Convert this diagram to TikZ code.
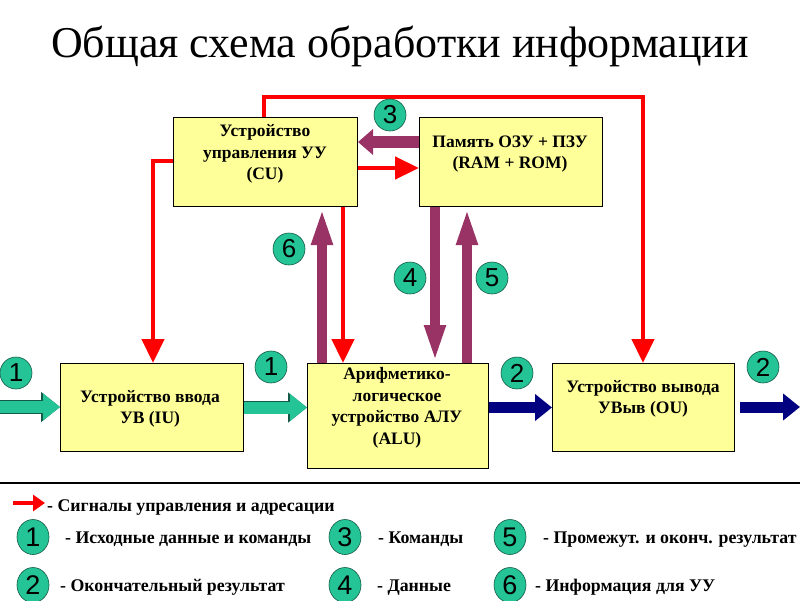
\documentclass[tikz,border=0pt]{standalone}
\usepackage{fontspec}
\setmainfont{Liberation Serif}
\newfontfamily\numfont{Liberation Sans}
\usetikzlibrary{arrows.meta,calc,shapes.geometric}
\definecolor{boxyellow}{RGB}{255,255,153}
\definecolor{tealc}{RGB}{36,196,150}
\definecolor{tealdark}{RGB}{20,90,70}
\definecolor{plum}{RGB}{153,51,102}
\definecolor{navyc}{RGB}{0,0,128}
\definecolor{redc}{RGB}{255,0,0}
\begin{document}
\begin{tikzpicture}[x=1pt,y=-1pt,
  box/.style={draw=black, line width=1pt, fill=boxyellow, anchor=north west, inner sep=0pt},
  boxtext/.style={align=center, font=\bfseries\fontsize{17.5}{21.5}\selectfont, inner sep=0pt},
  num/.style={circle, draw=tealdark, fill=tealc, line width=0.6pt, minimum size=32pt, inner sep=0pt, font=\numfont\fontsize{26}{26}\selectfont},
  lnum/.style={ellipse, draw=tealdark, fill=tealc, line width=0.6pt, minimum width=32pt, minimum height=35pt, inner sep=0pt, font=\numfont\fontsize{27}{27}\selectfont},
  legtext/.style={anchor=base west, inner sep=0pt, font=\bfseries\fontsize{17.8}{20}\selectfont},
  redarr/.style={draw=redc, line width=4.5pt, -{Triangle[width=22pt,length=24pt]}},
  plumH/.style={draw=plum, line width=12pt, -{Triangle[width=25pt,length=15pt]}},
  plumV/.style={draw=plum, line width=9.5pt, -{Triangle[width=19pt,length=38pt]}},
  tealout/.style={draw=tealdark, line width=13.6pt, -{Triangle[width=29pt,length=19pt]}},
  tealin/.style={draw=tealc, line width=12pt, -{Triangle[width=26pt,length=17pt]}},
  navyarr/.style={draw=navyc, line width=11pt, -{Triangle[width=26pt,length=17pt]}}
]
\useasboundingbox (0,0) rectangle (800,600);

% title
\node[anchor=base, inner sep=0pt, font=\fontsize{44}{50}\selectfont] (title) at (400,57) {Общая схема обработки информации};

% boxes
\node[box, minimum width=184pt, minimum height=89pt] (cu) at (173,117) {};
\node[box, minimum width=183pt, minimum height=89pt] (ram) at (419,117) {};
\node[box, minimum width=183pt, minimum height=88pt] (iu) at (60,363) {};
\node[box, minimum width=181pt, minimum height=105pt] (alu) at (307,363) {};
\node[box, minimum width=182pt, minimum height=88pt] (ou) at (552,363) {};

\node[boxtext] (cut) at (265,154) {Устройство\\управления УУ\\(CU)};
\node[boxtext] (ramt) at (510,154) {Память ОЗУ + ПЗУ\\(RAM + ROM)};
\node[boxtext] (iut) at (150,409) {Устройство ввода\\УВ (IU)};
\node[boxtext] (alut) at (397,408) {Арифметико-\\логическое\\устройство АЛУ\\(ALU)};
\node[boxtext] (out) at (643,399) {Устройство вывода\\УВыв (OU)};

% helper coordinates
\coordinate (c1) at (264,97);
\coordinate (c2) at (643,97);
\coordinate (c3) at (153,161);
\coordinate (c4) at (343,0);
\coordinate (c5) at (0,168);
\coordinate (c6) at (0,142);
\coordinate (c7) at (322,0);
\coordinate (c8) at (435,0);
\coordinate (c9) at (467,0);
\coordinate (inL) at (0,407);
\coordinate (outS) at (740,407);
\coordinate (outR) at (800,407);

% red control lines
\draw[redarr] (c1 |- cu.north) -- (c1) -- (c2) -- (c2 |- ou.north);
\draw[redarr] (c3 -| cu.west) -- (c3) -- (c3 |- iu.north);
\draw[redarr] (c4 |- cu.south) -- (c4 |- alu.north);
\draw[redarr] (c5 -| cu.east) -- (c5 -| ram.west);

% plum data arrows
\draw[plumH] (c6 -| ram.west) -- (c6 -| cu.east);
\draw[plumV] (c7 |- alu.north) -- (c7 |- cu.south);
\draw[plumV] (c8 |- ram.south) -- (c8 |- alu.north);
\draw[plumV] (c9 |- alu.north) -- (c9 |- ram.south);

% teal and navy block arrows
\draw[tealout] (inL) -- (inL -| iu.west);
\draw[tealin] (inL) -- (inL -| iu.west);
\draw[tealout] (iu.east) -- (iu.east -| alu.west);
\draw[tealin] (iu.east) -- (iu.east -| alu.west);
\draw[navyarr] (alu.east |- ou.west) -- (ou.west);
\draw[navyarr] (outS) -- (outR);

% numbered circles
\node[num] (n3) at (390,115) {3};
\node[num] (n6) at (289,249) {6};
\node[num] (n4) at (410,278) {4};
\node[num] (n5) at (492,278) {5};
\node[num] (n1a) at (16,373) {1};
\node[num] (n1b) at (271,367) {1};
\node[num] (n2a) at (517,373) {2};
\node[num] (n2b) at (763,367) {2};

% legend
\coordinate (lL) at (0,483);
\coordinate (lR) at (800,483);
\draw[line width=1.5pt] (lL) -- (lR);
\coordinate (la1) at (13,503);
\coordinate (la2) at (45,503);
\draw[draw=redc, line width=4pt, -{Triangle[width=16pt,length=12pt]}] (la1) -- (la2);
\node[legtext] (lg0) at (47,511) {- Сигналы управления и адресации};

\node[lnum] (l1) at (33,537) {1};
\node[legtext] (lg1) at (65,543) {- Исходные данные и команды};
\node[lnum] (l3) at (345,537) {3};
\node[legtext] (lg3) at (378,543) {- Команды};
\node[lnum] (l5) at (510,537) {5};
\node[legtext] (lg5) at (543,543) {- Промежут. и оконч. результат};
\node[lnum] (l2) at (33,585) {2};
\node[legtext] (lg2) at (60,591) {- Окончательный результат};
\node[lnum] (l4) at (345,585) {4};
\node[legtext] (lg4) at (377,591) {- Данные};
\node[lnum] (l6) at (510,585) {6};
\node[legtext] (lg6) at (535,591) {- Информация для УУ};
\end{tikzpicture}
\end{document}
